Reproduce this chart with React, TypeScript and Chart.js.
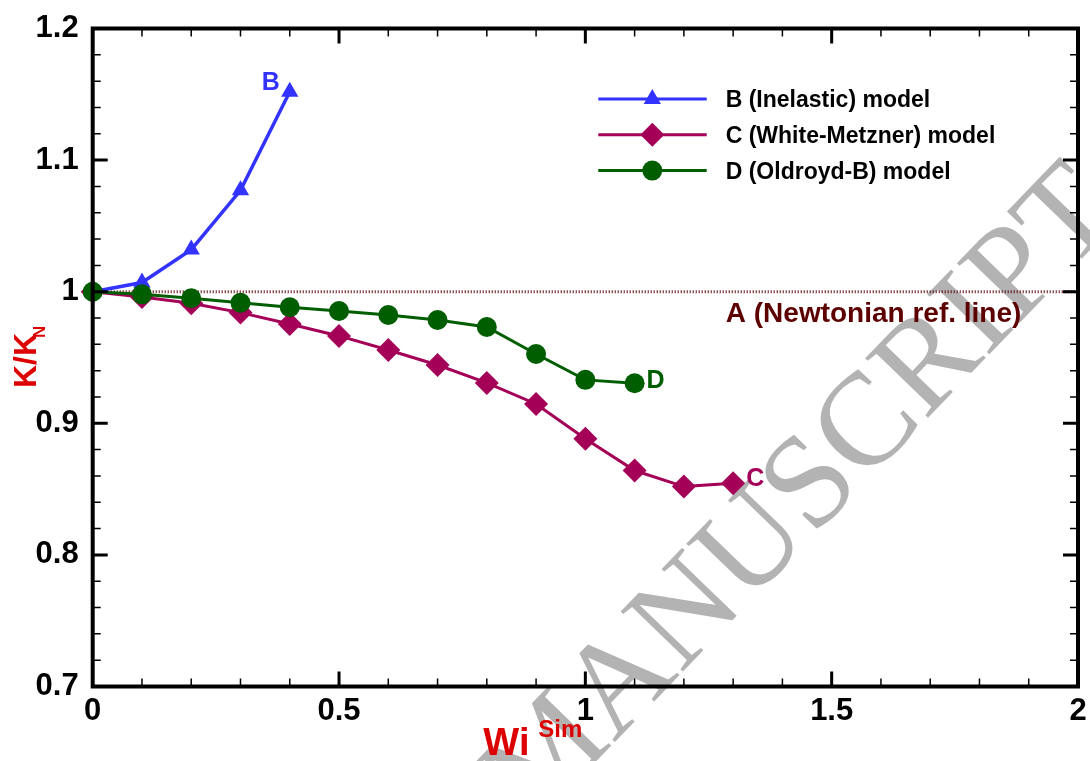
import React, { useEffect, useRef } from 'react';
import { Chart, registerables } from 'chart.js';

Chart.register(...registerables);

// Wi^Sim values and normalised K/K_N for each model
const wiB = [0, 0.1, 0.2, 0.3, 0.4];
const kB = [1.0, 1.007, 1.032, 1.077, 1.152];

const wiC = [0, 0.1, 0.2, 0.3, 0.4, 0.5, 0.6, 0.7, 0.8, 0.9, 1.0, 1.1, 1.2, 1.3];
const kC = [1.0, 0.996, 0.9912, 0.9841, 0.9755, 0.9664, 0.9557, 0.9443, 0.9307, 0.9147, 0.8882, 0.8641, 0.8519, 0.8545];

const wiD = [0, 0.1, 0.2, 0.3, 0.4, 0.5, 0.6, 0.7, 0.8, 0.9, 1.0, 1.1];
const kD = [1.0, 0.998, 0.995, 0.9916, 0.9882, 0.9853, 0.9823, 0.9785, 0.9732, 0.9527, 0.933, 0.9304];

// Newtonian reference line
const wiA = [0, 2];
const kA = [1, 1];

// labelled (major) tick values; the rest of the ticks are minor
const xMajorTicks = [0, 0.5, 1, 1.5, 2];
const xMajorLabels = ['0', '0.5', '1', '1.5', '2'];
const yMajorTicks = [0.7, 0.8, 0.9, 1.0, 1.1, 1.2];
const yMajorLabels = ['0.7', '0.8', '0.9', '1', '1.1', '1.2'];

const legendNames = ['B (Inelastic) model', 'C (White-Metzner) model', 'D (Oldroyd-B) model'];

const BLUE = '#3333ff';
const MAGENTA = '#a50058';
const GREEN = '#005e00';
const DARKRED = '#5c0000';
const RED = '#dd0000';
const SANS = '"Liberation Sans", Arial, Helvetica, sans-serif';
const SERIF = '"Liberation Serif", "Times New Roman", serif';

const pts = (xs: number[], ys: number[]) => xs.map((x, i) => ({ x, y: ys[i] }));

const labelFor = (v: number, majors: number[], labels: string[]) => {
  const i = majors.findIndex((m) => Math.abs(m - v) < 1e-6);
  return i >= 0 ? labels[i] : '';
};

function marker(ctx: CanvasRenderingContext2D, style: string, x: number, y: number, r: number, color: string) {
  ctx.save();
  ctx.fillStyle = color;
  ctx.beginPath();
  if (style === 'triangle') {
    for (let k = 0; k < 3; k++) {
      const a = (k * 2 * Math.PI) / 3;
      const px = x + Math.sin(a) * r;
      const py = y - Math.cos(a) * r;
      if (k === 0) ctx.moveTo(px, py);
      else ctx.lineTo(px, py);
    }
  } else if (style === 'rectRot') {
    ctx.moveTo(x, y - r);
    ctx.lineTo(x + r, y);
    ctx.lineTo(x, y + r);
    ctx.lineTo(x - r, y);
  } else {
    ctx.arc(x, y, r, 0, Math.PI * 2);
  }
  ctx.closePath();
  ctx.fill();
  ctx.restore();
}

const decorPlugin = {
  id: 'decor',
  beforeDraw(chart: any) {
    // diagonal watermark behind everything
    const ctx: CanvasRenderingContext2D = chart.ctx;
    ctx.save();
    const size = 132;
    ctx.font = `${size}px ${SERIF}`;
    ctx.fillStyle = '#b3b3b3';
    ctx.translate(1064, 214);
    ctx.rotate((-46 * Math.PI) / 180);
    ctx.textAlign = 'right';
    ctx.textBaseline = 'alphabetic';
    ctx.fillText('ACCEPTED MANUSCRIPT', 0.306 * size, 0.331 * size);
    ctx.restore();
  },
  afterDatasetsDraw(chart: any) {
    const ctx: CanvasRenderingContext2D = chart.ctx;
    const { left, right, top, bottom } = chart.chartArea;
    const xs = chart.scales.x;
    const ys = chart.scales.y;

    ctx.save();
    ctx.strokeStyle = '#000';
    ctx.lineCap = 'butt';

    // inward ticks on all four sides
    xs.ticks.forEach((t: any) => {
      const px = xs.getPixelForValue(t.value);
      if (px <= left + 2 || px >= right - 2) return;
      const major = labelFor(t.value, xMajorTicks, xMajorLabels) !== '';
      const len = major ? 15 : 8;
      ctx.lineWidth = major ? 3 : 1.5;
      ctx.beginPath();
      ctx.moveTo(px, bottom);
      ctx.lineTo(px, bottom - len);
      ctx.moveTo(px, top);
      ctx.lineTo(px, top + len);
      ctx.stroke();
    });
    ys.ticks.forEach((t: any) => {
      const py = ys.getPixelForValue(t.value);
      if (py <= top + 2 || py >= bottom - 2) return;
      const major = labelFor(t.value, yMajorTicks, yMajorLabels) !== '';
      const len = major ? 15 : 8;
      ctx.lineWidth = major ? 3 : 1.5;
      ctx.beginPath();
      ctx.moveTo(left, py);
      ctx.lineTo(left + len, py);
      ctx.moveTo(right, py);
      ctx.lineTo(right - len, py);
      ctx.stroke();
    });

    // frame
    ctx.lineWidth = 4;
    ctx.strokeRect(left, top, right - left, bottom - top);

    // legend
    const colors = [BLUE, MAGENTA, GREEN];
    const styles = ['triangle', 'rectRot', 'circle'];
    const radii = [10, 12, 10];
    const lx = left + 505.6;
    const ly = top + 70.5;
    const rowGap = 35.8;
    ctx.font = `bold 23px ${SANS}`;
    ctx.textAlign = 'left';
    ctx.textBaseline = 'alphabetic';
    legendNames.forEach((name, i) => {
      const y = ly + i * rowGap;
      ctx.strokeStyle = colors[i];
      ctx.lineWidth = 3;
      ctx.beginPath();
      ctx.moveTo(lx, y);
      ctx.lineTo(lx + 108.4, y);
      ctx.stroke();
      marker(ctx, styles[i], lx + 54, y, radii[i], colors[i]);
      ctx.fillStyle = '#000';
      ctx.fillText(name, lx + 127.4, y + 8);
    });

    // curve labels, anchored to the end points of each series
    const at = (xv: number, yv: number) => [xs.getPixelForValue(xv), ys.getPixelForValue(yv)];
    ctx.font = `bold 25px ${SANS}`;
    const [bx, by] = at(wiB[wiB.length - 1], kB[kB.length - 1]);
    ctx.fillStyle = BLUE;
    ctx.textAlign = 'right';
    ctx.fillText('B', bx - 10, by - 1.5);
    const [cx, cy] = at(wiC[wiC.length - 1], kC[kC.length - 1]);
    ctx.fillStyle = MAGENTA;
    ctx.textAlign = 'left';
    ctx.fillText('C', cx + 13, cy + 3);
    const [dx, dy] = at(wiD[wiD.length - 1], kD[kD.length - 1]);
    ctx.fillStyle = GREEN;
    ctx.fillText('D', dx + 12, dy + 4.5);

    ctx.font = `bold 28px ${SANS}`;
    ctx.fillStyle = DARKRED;
    ctx.textAlign = 'center';
    const [ax, ay] = at(1.585, kA[0]);
    ctx.fillText('A (Newtonian ref. line)', ax, ay + 30);

    // x-axis title: Wi^Sim
    const midX = (left + right) / 2;
    ctx.fillStyle = RED;
    ctx.textAlign = 'left';
    ctx.font = `bold 38px ${SANS}`;
    ctx.fillText('Wi', midX - 102, bottom + 68.5);
    ctx.font = `bold 24px ${SANS}`;
    ctx.fillText('Sim', midX - 47, bottom + 50);

    // y-axis title: K/K_N
    ctx.save();
    ctx.translate(36, 388);
    ctx.rotate(-Math.PI / 2);
    ctx.font = `bold 32px ${SANS}`;
    ctx.fillText('K/K', 0, 0);
    const w = ctx.measureText('K/K').width;
    ctx.font = `bold 17px ${SANS}`;
    ctx.fillText('N', w - 5, 9);
    ctx.restore();

    ctx.restore();
  },
};

export default function App() {
  const canvasRef = useRef<HTMLCanvasElement | null>(null);

  useEffect(() => {
    document.body.style.margin = '0';
    const canvas = canvasRef.current;
    if (!canvas) return;

    const chart = new Chart(canvas, {
      type: 'line',
      data: {
        datasets: [
          {
            label: legendNames[2],
            data: pts(wiD, kD),
            borderColor: GREEN,
            backgroundColor: GREEN,
            borderWidth: 3,
            pointStyle: 'circle',
            pointRadius: 10,
            pointBorderWidth: 0,
            pointBackgroundColor: GREEN,
            clip: false,
            order: 1,
          },
          {
            label: legendNames[1],
            data: pts(wiC, kC),
            borderColor: MAGENTA,
            backgroundColor: MAGENTA,
            borderWidth: 3,
            pointStyle: 'rectRot',
            pointRadius: 12,
            pointBorderWidth: 0,
            pointBackgroundColor: MAGENTA,
            clip: false,
            order: 2,
          },
          {
            label: legendNames[0],
            data: pts(wiB, kB),
            borderColor: BLUE,
            backgroundColor: BLUE,
            borderWidth: 3.5,
            pointStyle: 'triangle',
            pointRadius: 10,
            pointBorderWidth: 0,
            pointBackgroundColor: BLUE,
            clip: false,
            order: 3,
          },
          {
            label: 'A (Newtonian ref. line)',
            data: pts(wiA, kA),
            borderColor: '#5a0808',
            borderWidth: 3,
            borderDash: [1, 2],
            pointRadius: 0,
            order: 4,
          },
        ],
      },
      options: {
        animation: false,
        responsive: false,
        devicePixelRatio: 1,
        layout: { padding: { top: 28.5, right: 9.3, left: 0, bottom: 0 } },
        plugins: {
          legend: { display: false },
          tooltip: { enabled: false },
          title: { display: false },
        },
        elements: { line: { tension: 0 } },
        scales: {
          x: {
            type: 'linear',
            min: 0,
            max: 2,
            afterFit: (s: any) => {
              s.height = 74.5;
              s.paddingLeft = 0;
              s.paddingRight = 0;
            },
            border: { display: false },
            grid: { display: false, drawTicks: false },
            ticks: {
              stepSize: 0.1,
              autoSkip: false,
              maxRotation: 0,
              padding: 6,
              color: '#000',
              font: { family: SANS, size: 31, weight: 'bold' },
              callback: (v: any) => labelFor(Number(v), xMajorTicks, xMajorLabels),
            },
          },
          y: {
            type: 'linear',
            min: 0.7,
            max: 1.2,
            afterFit: (s: any) => {
              s.width = 92.7;
              s.paddingTop = 0;
              s.paddingBottom = 0;
            },
            border: { display: false },
            grid: { display: false, drawTicks: false },
            ticks: {
              stepSize: 0.02,
              autoSkip: false,
              padding: 14,
              color: '#000',
              font: { family: SANS, size: 31, weight: 'bold' },
              callback: (v: any) => labelFor(Number(v), yMajorTicks, yMajorLabels),
            },
          },
        },
      },
      plugins: [decorPlugin],
    } as any);

    return () => chart.destroy();
  }, []);

  return (
    <div style={{ position: 'absolute', left: 0, top: 0, width: 1090, height: 761 }}>
      <canvas ref={canvasRef} width={1090} height={761} />
    </div>
  );
}
